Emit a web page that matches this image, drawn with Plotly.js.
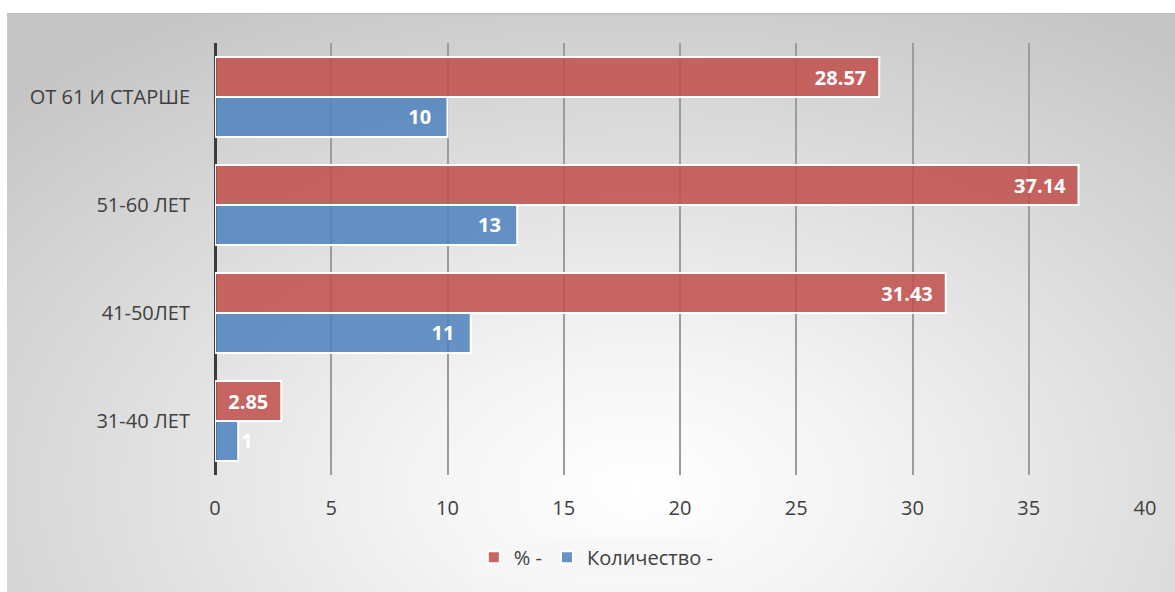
<!DOCTYPE html>
<html>
<head>
<meta charset="utf-8">
<script src="https://cdn.plot.ly/plotly-3.0.1.min.js"></script>
<style>
html,body{margin:0;padding:0;background:#ffffff;width:1175px;height:592px;overflow:hidden;}
#bg{position:absolute;left:7px;top:13px;width:1168px;height:579px;border-top:2px solid #c2c2c2;box-sizing:border-box;
background:radial-gradient(ellipse 75% 95% at 54% 82%, #ffffff 0%, #f4f4f4 25%, #dedede 60%, #c6c6c6 100%);}
#chart{position:absolute;left:0;top:0;width:1175px;height:592px;}
</style>
</head>
<body>
<div id="bg"></div>
<div id="chart"></div>
<script>
const categories = ['31-40 ЛЕТ', '41-50ЛЕТ', '51-60 ЛЕТ', 'ОТ 61 И СТАРШЕ'];
const percentValues = [2.85, 31.43, 37.14, 28.57];
const countValues = [1, 11, 13, 10];
const seriesNames = ['% -', 'Количество -'];
const xTicks = [0, 5, 10, 15, 20, 25, 30, 35, 40];

const FONT = 'Open Sans, Noto Sans, sans-serif';
const labelFont = {family: FONT, size: 20, color: '#ffffff', weight: 'bold'};

const traceCount = {
  type: 'bar', orientation: 'h',
  y: categories, x: countValues, name: seriesNames[1],
  marker: {color: 'rgba(79,129,189,0.86)', line: {color: '#ffffff', width: 2}},
  text: countValues.map(v => String(v)),
  texttemplate: '%{text}\u2002\u2009',
  textposition: 'auto', insidetextanchor: 'end', constraintext: 'none', textangle: 0,
  textfont: labelFont, insidetextfont: labelFont, outsidetextfont: labelFont,
  cliponaxis: false,
  legendrank: 2, hoverinfo: 'none'
};
const tracePct = {
  type: 'bar', orientation: 'h',
  y: categories, x: percentValues, name: seriesNames[0],
  marker: {color: 'rgba(192,80,77,0.87)', line: {color: '#ffffff', width: 2}},
  text: percentValues.map(v => v.toFixed(2)),
  texttemplate: '%{text}\u2002',
  textposition: 'inside', insidetextanchor: 'end', constraintext: 'none', textangle: 0,
  textfont: labelFont,
  legendrank: 1, hoverinfo: 'none'
};

const layout = {
  width: 1175, height: 592,
  margin: {l: 215, r: 30, t: 43, b: 117},
  paper_bgcolor: 'rgba(0,0,0,0)', plot_bgcolor: 'rgba(0,0,0,0)',
  barmode: 'group', bargap: 0.26, bargroupgap: 0,
  font: {family: FONT, size: 20, color: '#404040'},
  xaxis: {
    range: [0, 40], tickvals: xTicks, ticktext: xTicks.map(String),
    showgrid: true, gridcolor: '#9c9c9c', gridwidth: 2,
    zeroline: true, zerolinecolor: '#3c3c3c', zerolinewidth: 3,
    showline: false, ticks: '', ticklabelstandoff: 19,
    tickfont: {family: FONT, size: 20, color: '#404040'}, fixedrange: true
  },
  yaxis: {
    type: 'category', categoryorder: 'array', categoryarray: categories,
    showgrid: false, zeroline: false, showline: false, ticks: '',
    ticklabelstandoff: 24,
    tickfont: {family: FONT, size: 20, color: '#404040'}, fixedrange: true
  },
  showlegend: true,
  legend: {
    orientation: 'h', x: 0.41, xanchor: 'center', y: -0.145, yanchor: 'top',
    bgcolor: 'rgba(246,246,246,0.7)', borderwidth: 0,
    font: {family: FONT, size: 20, color: '#404040'},
    itemwidth: 30, traceorder: 'normal'
  }
};

Plotly.newPlot('chart', [traceCount, tracePct], layout, {displayModeBar: false, staticPlot: true});
</script>
</body>
</html>
